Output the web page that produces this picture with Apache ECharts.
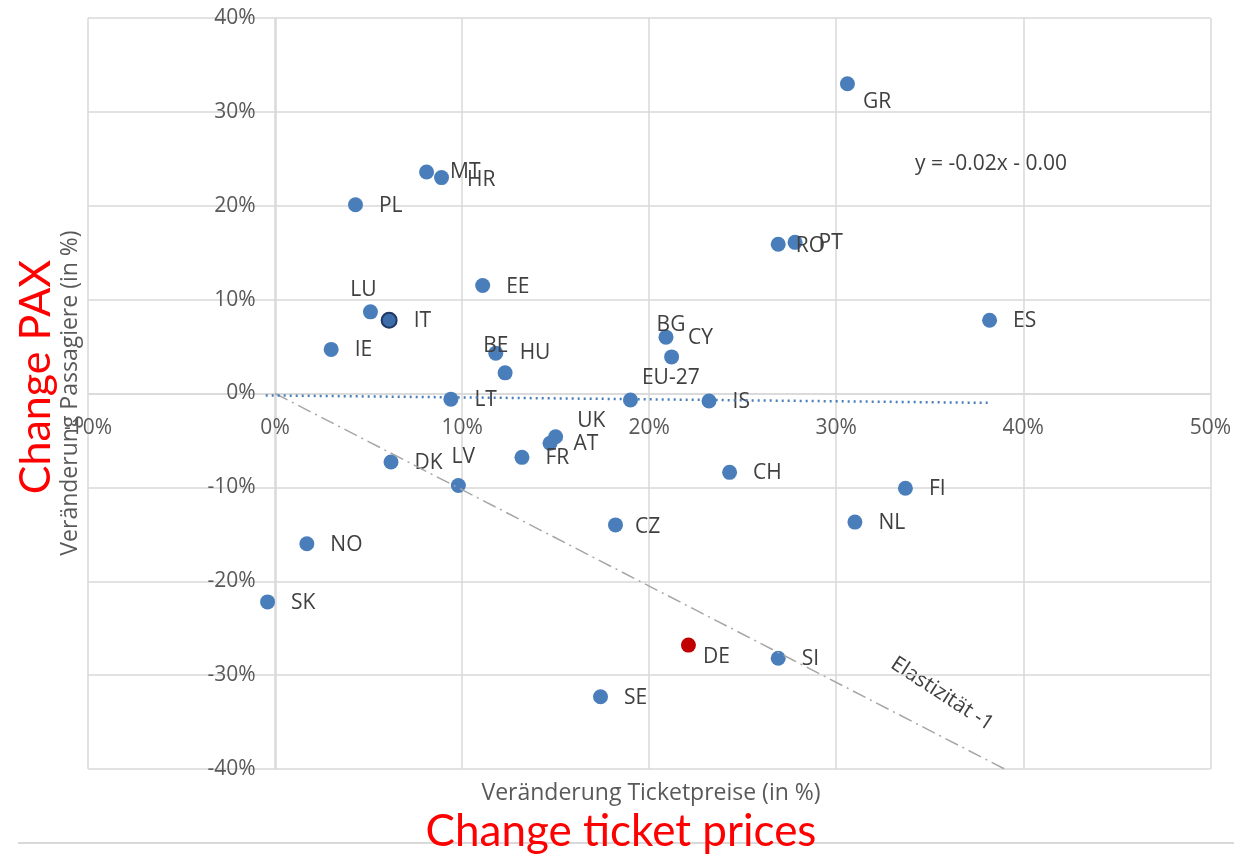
<!DOCTYPE html>
<html>
<head>
<meta charset="utf-8">
<title>Veränderung Ticketpreise vs. Passagiere</title>
<script src="https://cdn.jsdelivr.net/npm/echarts@6/dist/echarts.min.js"></script>
<style>
  html, body { margin: 0; padding: 0; background: #fff; }
  #chart { width: 1234px; height: 856px; }
</style>
</head>
<body>
<div id="chart"></div>
<script>
// ---- data (in %) ----
const countries = ['GR', 'MT', 'HR', 'PL', 'RO', 'PT', 'EE', 'LU', 'IT', 'ES', 'IE', 'BG', 'CY', 'BE', 'HU',
  'LT', 'EU-27', 'IS', 'UK', 'AT', 'DK', 'LV', 'FR', 'CH', 'FI', 'NL', 'CZ', 'NO', 'SK', 'DE', 'SI', 'SE']
const priceChange = [30.6, 8.1, 8.9, 4.3, 26.9, 27.8, 11.1, 5.1, 6.1, 38.2, 3.0, 20.9, 21.2, 11.8, 12.3,
  9.4, 19.0, 23.2, 15.0, 14.7, 6.2, 9.8, 13.2, 24.3, 33.7, 31.0, 18.2, 1.7, -0.4, 22.1, 26.9, 17.4]
const paxChange = [33.0, 23.6, 23.0, 20.1, 15.9, 16.1, 11.5, 8.7, 7.8, 7.8, 4.7, 6.0, 3.9, 4.3, 2.2,
  -0.6, -0.7, -0.8, -4.6, -5.3, -7.3, -9.8, -6.8, -8.4, -10.1, -13.7, -14.0, -16.0, -22.2, -26.8, -28.2, -32.3]

const xTicks = [-10, 0, 10, 20, 30, 40, 50]
const yTicks = [-40, -30, -20, -10, 0, 10, 20, 30, 40]

// linear trend line (endpoints) and elasticity -1 reference line
const trendX = [-0.5, 38.3]
const trendY = [-0.2, -1.0]
const elastX = [0, 39]
const elastY = [0, -40]

// ---- label placement tweaks ----
const labelTweaks = {
  GR: { offset: [-6, 18] },
  MT: { offset: [2, 0] },
  HR: { offset: [4, 2] },
  LU: { position: 'top', distance: 4, offset: [-7, 0] },
  BG: { position: 'top', distance: -6, offset: [5, 0] },
  CY: { offset: [-5, -19] },
  BE: { position: 'inside', offset: [0, -7] },
  HU: { offset: [-7, -20] },
  'EU-27': { offset: [-10, -22] },
  UK: { offset: [0, -16] },
  LV: { position: 'top', distance: 10, offset: [5, 0] },
  CZ: { offset: [-2, 2] },
  DE: { offset: [-7, 12] },
  RO: { offset: [-4, 2] },
}

const FONT = '"Open Sans", sans-serif'
const RED_FONT = 'Lato, sans-serif'
const BLUE = '#4a7ebb'
const GRID = '#d9d9d9'

// grid box and where the zero lines fall inside it
const gridBox = { left: 88, right: 20, top: 18, bottom: 87 }
const gridW = 1234 - gridBox.left - gridBox.right
const gridH = 856 - gridBox.top - gridBox.bottom
const xMin = xTicks[0], xMax = xTicks[xTicks.length - 1]
const yMin = yTicks[0], yMax = yTicks[yTicks.length - 1]
const xAxisShift = -((0 - yMin) / (yMax - yMin)) * gridH
const yAxisShift = -((0 - xMin) / (xMax - xMin)) * gridW

const chart = echarts.init(document.getElementById('chart'))

const points = countries.map((c, i) => {
  const item = { name: c, value: [priceChange[i], paxChange[i]] }
  if (c === 'DE') item.itemStyle = { color: '#c00000' }
  if (c === 'IT') item.itemStyle = { color: '#3d6cab', borderColor: '#1f3864', borderWidth: 2 }
  if (labelTweaks[c]) item.label = labelTweaks[c]
  return item
})

const axisCommon = {
  type: 'value',
  interval: 10,
  axisLine: { show: true, onZero: false, lineStyle: { color: GRID, width: 1.5 } },
  axisTick: { show: false },
  axisLabel: { formatter: '{value}%', fontSize: 21, color: '#595959', margin: 20, fontFamily: FONT },
  splitLine: { lineStyle: { color: GRID, width: 1.5 } },
}

chart.setOption({
  animation: false,
  grid: gridBox,
  xAxis: {
    ...axisCommon, min: xMin, max: xMax, position: 'bottom', offset: xAxisShift,
    axisLabel: { ...axisCommon.axisLabel, margin: 24 },
  },
  yAxis: { ...axisCommon, min: yMin, max: yMax, position: 'left', offset: yAxisShift },
  series: [
    {
      type: 'line',
      silent: true,
      symbol: 'none',
      data: elastX.map((x, i) => [x, elastY[i]]),
      lineStyle: { color: '#a6a6a6', width: 1.5, type: [14, 5, 2, 5] },
    },
    {
      type: 'line',
      silent: true,
      symbol: 'none',
      data: trendX.map((x, i) => [x, trendY[i]]),
      lineStyle: { color: BLUE, width: 2.5, type: [2, 4] },
    },
    {
      type: 'scatter',
      symbolSize: 15,
      itemStyle: { color: BLUE, opacity: 1 },
      data: points,
      label: {
        show: true,
        formatter: '{b}',
        position: 'right',
        distance: 14,
        offset: [2, 1],
        color: '#404040',
        fontSize: 21,
        fontFamily: FONT,
      },
    },
  ],
  graphic: [
    {
      type: 'line',
      shape: { x1: 18, y1: 843, x2: 1234, y2: 843 },
      style: { stroke: GRID, lineWidth: 2 },
      z: 0,
    },
    {
      type: 'text', x: 70, y: 393, rotation: Math.PI / 2,
      style: { text: 'Veränderung Passagiere (in %)', fill: '#595959', font: '23px ' + FONT, align: 'center', verticalAlign: 'middle' },
    },
    {
      type: 'text', x: 651, y: 793,
      style: { text: 'Veränderung Ticketpreise (in %)', fill: '#595959', font: '23px ' + FONT, align: 'center', verticalAlign: 'middle' },
    },
    {
      type: 'text', x: 991, y: 164,
      style: { text: 'y = -0.02x - 0.00', fill: '#404040', font: '21px ' + FONT, align: 'center', verticalAlign: 'middle' },
    },
    {
      type: 'text', x: 942, y: 694, rotation: -33 * Math.PI / 180,
      style: { text: 'Elastizität -1', fill: '#404040', font: '21px ' + FONT, align: 'center', verticalAlign: 'middle' },
    },
    {
      type: 'text', x: 36, y: 377, rotation: Math.PI / 2, z: 10,
      style: { text: 'Change PAX', fill: '#ff0000', font: '43px ' + RED_FONT, align: 'center', verticalAlign: 'middle' },
    },
    {
      type: 'text', x: 621, y: 832, z: 10,
      style: { text: 'Change ticket prices', fill: '#ff0000', font: '44px ' + RED_FONT, align: 'center', verticalAlign: 'middle' },
    },
  ],
})

window.addEventListener('resize', () => chart.resize())
</script>
</body>
</html>
